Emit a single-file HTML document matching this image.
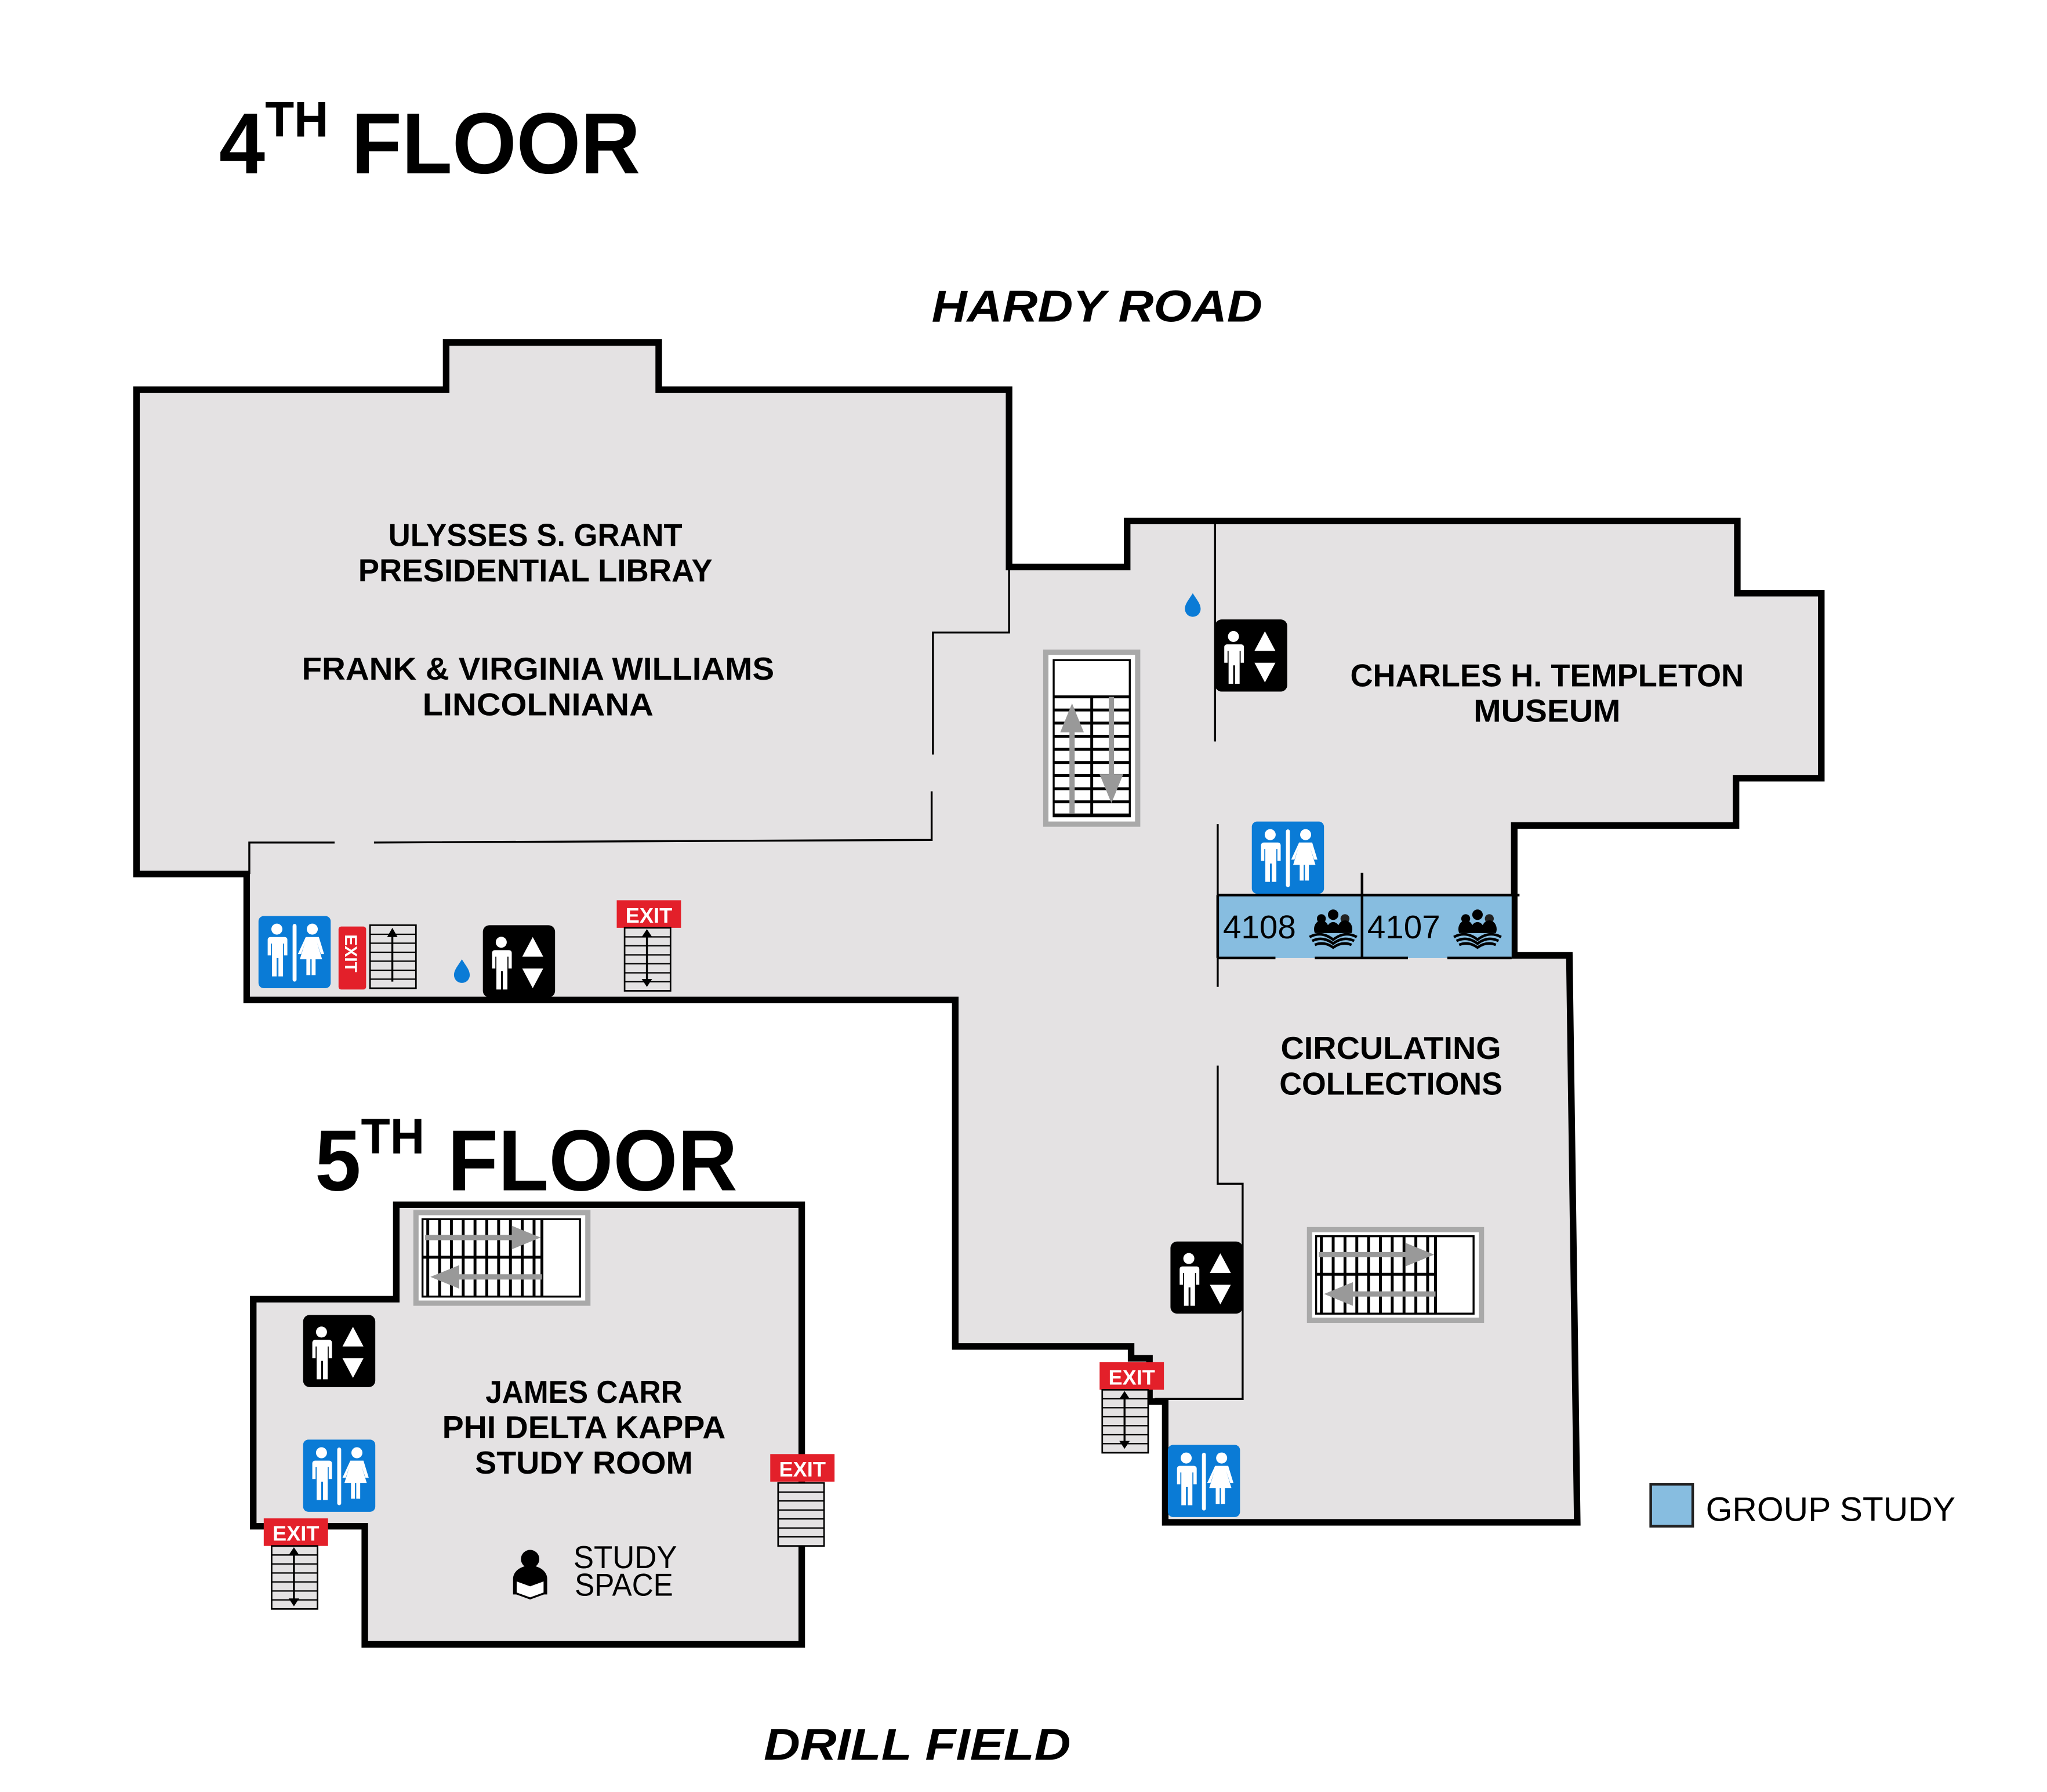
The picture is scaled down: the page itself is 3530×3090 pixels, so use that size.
<!DOCTYPE html>
<html><head><meta charset="utf-8"><style>
html,body{margin:0;padding:0;background:#fff;}
svg{display:block;}
text{font-family:"Liberation Sans",sans-serif;}
</style></head><body>
<svg width="3530" height="3090" viewBox="0 0 1560 1365.5" preserveAspectRatio="none" xmlns="http://www.w3.org/2000/svg">
<defs>
<g id="man"><circle cx="0" cy="-17" r="4.2" fill="#fff"/><path d="M-6,-11 h12 a2,2 0 0 1 2,2 v12 h-2.5 v-9 h-0.8 v25 h-3.5 v-14 h-1.4 v14 h-3.5 v-25 h-0.8 v9 h-2.5 v-12 a2,2 0 0 1 2,-2z" fill="#fff"/></g>
<g id="woman"><circle cx="0" cy="-17" r="4.2" fill="#fff"/><path d="M-5,-11 h10 l4,13 h-2.5 l-3,-9 l4,13 h-5 v12 h-3 v-12 h-1 v12 h-3 v-12 h-5 l4,-13 l-3,9 h-2.5z" fill="#fff"/></g>
<g id="rest"><rect x="0" y="0" width="55" height="55" rx="4" fill="#0a7bd6"/><use href="#man" x="14" y="27"/><rect x="26" y="6" width="3" height="44" rx="1.5" fill="#fff"/><use href="#woman" x="41" y="27"/></g>
<g id="elev"><rect x="0" y="0" width="55" height="55" rx="5" fill="#000"/><use href="#man" x="14" y="30"/><path d="M30,24 l8,-15 l8,15z M30,33 h16 l-8,15z" fill="#fff"/></g>
<g id="st"><rect x="0" y="0" width="35" height="48" fill="#e4e2e3" stroke="#000" stroke-width="1.2"/>
<path d="M0,6.9 h35 M0,13.7 h35 M0,20.6 h35 M0,27.4 h35 M0,34.3 h35 M0,41.1 h35" stroke="#000" stroke-width="1"/></g>
<g id="drop"><path d="M0,-9 C3,-4 6,-1 6,3 A6,6 0 0 1 -6,3 C-6,-1 -3,-4 0,-9z" fill="#0a7bd6"/></g>
<g id="grp"><circle cx="-9" cy="-7" r="3.4" fill="#000"/><circle cx="0" cy="-10" r="4" fill="#000"/><circle cx="9" cy="-7" r="3.4" fill="#222"/>
<path d="M-14,4 a5,6 0 0 1 10,-6 a5,6 0 0 1 8,0 a5,6 0 0 1 10,6z" fill="#000"/>
<path d="M-18,7 q9,-5 18,2 q9,-7 18,-2 M-16,10 q8,-4 16,2 q8,-6 16,-2 M-14,13 q7,-3 14,2 q7,-5 14,-2" stroke="#000" stroke-width="2" fill="none"/></g>
</defs>

<!-- 4th floor outline -->
<path d="M104,297 H340 V261 H502 V297 H769 V432 H859 V397 H1324 V452 H1388 V593 H1323 V629 H1154 V728 H1196 L1202,1160 H888 V1068 H876 V1035 H862 V1026 H728 V762 H188 V666 H104 Z" fill="#e4e2e3" stroke="#000" stroke-width="5"/>
<!-- inner walls -->
<g stroke="#000" stroke-width="1.5" fill="none">
<path d="M190,666 V642 H255"/><path d="M285,642 L710,640 V603"/><path d="M711,575 V482 H769 V432"/>
<path d="M926,397 V565"/><path d="M928,628 V682"/><path d="M928,730 V752"/>
<path d="M928,812 V902 H947 V1066 H880"/>
</g>
<!-- group study -->
<rect x="928" y="682" width="224" height="48" fill="#87bde0"/>
<g stroke="#000" stroke-width="2" fill="none">
<path d="M928,682 H1158"/><path d="M1038,665 V730"/><path d="M928,682 V730"/>
<path d="M928,730 H972 M1002,730 H1073 M1103,730 H1152"/>
</g>
<text x="932" y="715" font-size="25">4108</text><use href="#grp" x="1016" y="707"/>
<text x="1042" y="715" font-size="25">4107</text><use href="#grp" x="1126" y="707"/>

<!-- 5th floor outline -->
<path d="M193,990 H302 V918 H611 V1253 H278 V1163 H193 Z" fill="#e4e2e3" stroke="#000" stroke-width="5"/>

<!-- vertical main stair -->
<rect x="797" y="497" width="70" height="131" fill="#fff" stroke="#a9a9a9" stroke-width="4"/>
<rect x="803" y="503" width="58" height="119" fill="#fff" stroke="#000" stroke-width="1.5"/>
<g stroke="#000" stroke-width="2.2"><path d="M803,531 H861 M803,541 H861 M803,551 H861 M803,561 H861 M803,571 H861 M803,581 H861 M803,591 H861 M803,601 H861 M803,611 H861 M803,621 H861 M832,531 V622"/></g>
<path d="M817,620 V545" stroke="#999" stroke-width="4"/><path d="M808,558 l9,-22 l9,22z" fill="#999"/>
<path d="M847,531 V600" stroke="#999" stroke-width="4"/><path d="M838,590 l9,22 l9,-22z" fill="#999"/>

<!-- horizontal stairs -->
<g id="hs">
<rect x="317" y="924" width="131" height="69" fill="#fff" stroke="#a9a9a9" stroke-width="4"/>
<rect x="322" y="929" width="120" height="59" fill="#fff" stroke="#000" stroke-width="1.5"/>
<path d="M326,929 V988 M335,929 V988 M344,929 V988 M353,929 V988 M362,929 V988 M371,929 V988 M380,929 V988 M389,929 V988 M398,929 V988 M407,929 V988 M413,929 V988 M322,958 H413" stroke="#000" stroke-width="2.2"/>
<path d="M324,943 H395" stroke="#999" stroke-width="4"/><path d="M390,934 l22,9 l-22,9z" fill="#999"/>
<path d="M345,973 H413" stroke="#999" stroke-width="4"/><path d="M350,964 l-22,9 l22,9z" fill="#999"/>
</g>
<use href="#hs" x="681" y="13"/>

<!-- icons -->
<use href="#rest" x="197" y="698"/>
<rect x="258" y="706" width="21" height="48" rx="2" fill="#e3202a"/>
<text transform="translate(263,712) rotate(90)" font-size="13" font-weight="bold" fill="#fff">EXIT</text>
<use href="#st" x="282" y="705"/><path d="M299,748 V712" stroke="#000" stroke-width="1.5"/><path d="M295,714 l4,-7 l4,7z" fill="#000"/>
<use href="#drop" x="352" y="740"/>
<use href="#elev" x="368" y="705"/>
<rect x="470" y="686" width="49" height="21" fill="#e3202a"/><text x="494.5" y="703" font-size="16" font-weight="bold" fill="#fff" text-anchor="middle">EXIT</text>
<use href="#st" x="476" y="707"/><path d="M493,710 V750" stroke="#000" stroke-width="1.5"/><path d="M489,714 l4,-6 l4,6z M489,746 l4,6 l4,-6z" fill="#000"/>

<use href="#drop" x="909" y="461"/>
<use href="#elev" x="926" y="472"/>
<use href="#rest" x="954" y="626"/>
<use href="#elev" x="892" y="946"/>
<rect x="838" y="1038" width="49" height="21" fill="#e3202a"/><text x="862.5" y="1055" font-size="16" font-weight="bold" fill="#fff" text-anchor="middle">EXIT</text>
<use href="#st" x="840" y="1059"/><path d="M857,1062 V1102" stroke="#000" stroke-width="1.5"/><path d="M853,1066 l4,-6 l4,6z M853,1098 l4,6 l4,-6z" fill="#000"/>
<use href="#rest" x="890" y="1101"/>

<use href="#elev" x="231" y="1002"/>
<use href="#rest" x="231" y="1097"/>
<rect x="587" y="1108" width="49" height="21" fill="#e3202a"/><text x="611.5" y="1125" font-size="16" font-weight="bold" fill="#fff" text-anchor="middle">EXIT</text>
<use href="#st" x="593" y="1130"/>
<rect x="201" y="1157" width="49" height="21" fill="#e3202a"/><text x="225.5" y="1174" font-size="16" font-weight="bold" fill="#fff" text-anchor="middle">EXIT</text>
<use href="#st" x="207" y="1178"/><path d="M224,1181 V1222" stroke="#000" stroke-width="1.5"/><path d="M220,1185 l4,-6 l4,6z M220,1218 l4,6 l4,-6z" fill="#000"/>

<!-- study space icon -->
<circle cx="404" cy="1188" r="7" fill="#000"/>
<path d="M391,1215 v-12 a13,10 0 0 1 26,0 v12z" fill="#000"/>
<path d="M393,1204 l11,4 l11,-4 v10 l-11,4 l-11,-4z" fill="#fff" stroke="#000" stroke-width="1.5"/>

<!-- legend -->
<rect x="1258" y="1131" width="32" height="32" fill="#87bde0" stroke="#222" stroke-width="2"/>
<text x="1300" y="1159" font-size="26">GROUP STUDY</text>

<!-- titles -->
<text x="167" y="132" font-size="66" font-weight="bold" textLength="321" lengthAdjust="spacingAndGlyphs">4<tspan font-size="38" dy="-28">TH</tspan><tspan dy="28"> FLOOR</tspan></text>
<text x="240" y="907" font-size="66" font-weight="bold" textLength="322" lengthAdjust="spacingAndGlyphs">5<tspan font-size="38" dy="-28">TH</tspan><tspan dy="28"> FLOOR</tspan></text>
<text x="836" y="245" font-size="34" font-weight="bold" font-style="italic" text-anchor="middle" textLength="252" lengthAdjust="spacingAndGlyphs">HARDY ROAD</text>
<text x="699" y="1341" font-size="34" font-weight="bold" font-style="italic" text-anchor="middle" textLength="234" lengthAdjust="spacingAndGlyphs">DRILL FIELD</text>

<g font-size="24" font-weight="bold" text-anchor="middle">
<text x="408" y="416" textLength="224" lengthAdjust="spacingAndGlyphs">ULYSSES S. GRANT</text>
<text x="408" y="443" textLength="270" lengthAdjust="spacingAndGlyphs">PRESIDENTIAL LIBRAY</text>
<text x="410" y="518" textLength="360" lengthAdjust="spacingAndGlyphs">FRANK &amp; VIRGINIA WILLIAMS</text>
<text x="410" y="545" textLength="176" lengthAdjust="spacingAndGlyphs">LINCOLNIANA</text>
<text x="1179" y="523" textLength="300" lengthAdjust="spacingAndGlyphs">CHARLES H. TEMPLETON</text>
<text x="1179" y="550" textLength="112" lengthAdjust="spacingAndGlyphs">MUSEUM</text>
<text x="1060" y="807" textLength="168" lengthAdjust="spacingAndGlyphs">CIRCULATING</text>
<text x="1060" y="834" textLength="170" lengthAdjust="spacingAndGlyphs">COLLECTIONS</text>
<text x="445" y="1069" textLength="150" lengthAdjust="spacingAndGlyphs">JAMES CARR</text>
<text x="445" y="1096" textLength="216" lengthAdjust="spacingAndGlyphs">PHI DELTA KAPPA</text>
<text x="445" y="1123" textLength="166" lengthAdjust="spacingAndGlyphs">STUDY ROOM</text>
</g>
<text x="437" y="1195" font-size="24" textLength="79" lengthAdjust="spacingAndGlyphs">STUDY</text>
<text x="438" y="1216" font-size="24" textLength="75" lengthAdjust="spacingAndGlyphs">SPACE</text>
</svg>
</body></html>
